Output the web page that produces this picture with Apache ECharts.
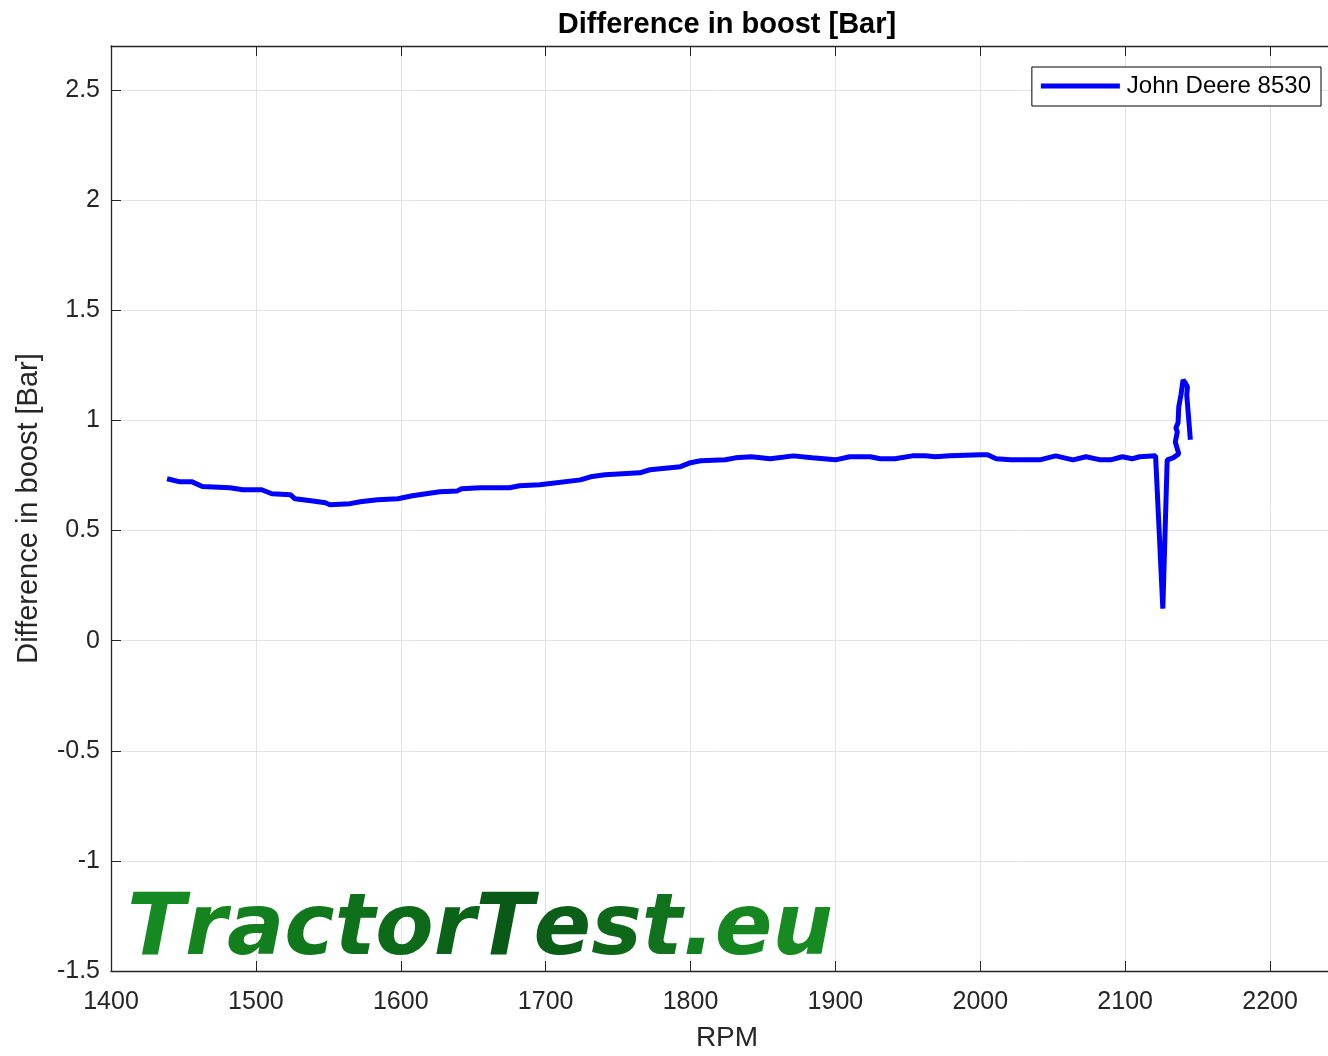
<!DOCTYPE html>
<html>
<head>
<meta charset="utf-8">
<script src="https://cdn.jsdelivr.net/npm/echarts@6/dist/echarts.min.js"></script>
<style>
  html, body { margin: 0; padding: 0; background: #fff; }
  #chart { width: 1328px; height: 1056px; }
</style>
</head>
<body>
<div id="chart"></div>
<script>
  // values
  const rpm = [1438.7, 1447.6, 1456, 1463, 1482, 1491, 1504, 1511, 1524, 1527, 1538, 1548, 1551, 1565, 1572,
    1584, 1598, 1608, 1627, 1639, 1642, 1655, 1675, 1682, 1696, 1724, 1731, 1741, 1765, 1772, 1793, 1800,
    1807, 1824, 1831, 1842, 1855, 1871, 1884, 1900, 1910, 1924, 1931, 1941, 1953, 1962, 1969, 1979, 2000,
    2005, 2011, 2021, 2041, 2052, 2064, 2073, 2083, 2090, 2098, 2105, 2110, 2121, 2126, 2129, 2133, 2137,
    2134.6, 2136, 2135, 2136.5, 2137, 2138.5, 2140, 2141.5, 2143, 2142.5, 2143.5, 2145];
  const boost = [0.735, 0.721, 0.721, 0.700, 0.694, 0.685, 0.685, 0.667, 0.662, 0.644, 0.635, 0.626, 0.617, 0.622, 0.631,
    0.640, 0.644, 0.658, 0.676, 0.680, 0.690, 0.694, 0.694, 0.703, 0.708, 0.730, 0.744, 0.753, 0.762, 0.776, 0.790, 0.808,
    0.817, 0.821, 0.830, 0.835, 0.826, 0.839, 0.830, 0.821, 0.835, 0.835, 0.826, 0.826, 0.839, 0.839, 0.835, 0.839, 0.844,
    0.844, 0.826, 0.821, 0.821, 0.839, 0.821, 0.835, 0.821, 0.821, 0.835, 0.826, 0.835, 0.839, 0.145, 0.821, 0.830, 0.848,
    0.902, 0.948, 0.966, 0.989, 1.062, 1.116, 1.184, 1.170, 1.152, 1.116, 1.107, 0.912];
  const seriesName = 'John Deere 8530';

  const pts = rpm.map((r, i) => [r, boost[i]]);

  const font = '"Liberation Sans", Arial, Helvetica, sans-serif';
  const axisCol = '#262626';
  const gridCol = '#e3e3e3';

  // watermark, one colour per letter to fake the green gradient
  const markText = 'TractorTest.eu';
  const markCols = ['#168a22', '#15841f', '#137e1e', '#11771c', '#0f701b', '#0d6a19', '#0b6317',
    '#095a16', '#0a5e17', '#0d6819', '#10721c', '#13801f', '#158620', '#178b22'];
  const rich = {};
  let richStr = '';
  markText.split('').forEach((ch, i) => {
    rich['c' + i] = {
      fill: markCols[i], fontSize: 85, fontWeight: 'bold', fontStyle: 'italic',
      fontFamily: '"DejaVu Sans", sans-serif'
    };
    richStr += '{c' + i + '|' + ch + '}';
  });

  const chart = echarts.init(document.getElementById('chart'));

  const option = {
    backgroundColor: '#fff',
    animation: false,
    legend: {
      right: 7, top: 67,
      orient: 'horizontal',
      backgroundColor: '#fff',
      borderColor: '#000', borderWidth: 1, borderRadius: 0,
      padding: [7, 10, 8, 9],
      itemWidth: 79, itemHeight: 5, itemGap: 6,
      icon: 'rect',
      textStyle: { fontFamily: font, fontSize: 24, color: '#000', padding: [0, 0, 0, 2] },
      data: [seriesName]
    },
    grid: { left: 111, right: 0, top: 46, bottom: 85, containLabel: false },
    xAxis: [{
      type: 'value', min: 1400, max: 2240, interval: 100,
      axisLine: { show: true, onZero: false, lineStyle: { color: axisCol, width: 1.3 } },
      axisTick: { show: true, inside: true, length: 10, lineStyle: { color: axisCol } },
      axisLabel: {
        fontFamily: font, fontSize: 25, color: axisCol, margin: 19, showMaxLabel: false,
        formatter: v => String(v)
      },
      splitLine: { show: true, lineStyle: { color: gridCol, width: 1 } }
    }, {
      type: 'value', position: 'top', min: 1400, max: 2240, interval: 100,
      axisLine: { show: true, onZero: false, lineStyle: { color: axisCol, width: 1.3 } },
      axisTick: { show: true, inside: true, length: 10, lineStyle: { color: axisCol } },
      axisLabel: { show: false },
      splitLine: { show: false }
    }],
    yAxis: {
      type: 'value', min: -1.5, max: 2.7, interval: 0.5,
      name: 'Difference in boost [Bar]', nameLocation: 'middle', nameGap: 68,
      nameTextStyle: { fontFamily: font, fontSize: 29, color: axisCol },
      axisLine: { show: true, onZero: false, lineStyle: { color: axisCol, width: 1.3 } },
      axisTick: { show: true, inside: true, length: 10, lineStyle: { color: axisCol } },
      axisLabel: {
        fontFamily: font, fontSize: 25, color: axisCol, margin: 11, showMaxLabel: false,
        formatter: v => String(v)
      },
      splitLine: { show: true, lineStyle: { color: gridCol, width: 1 } }
    },
    graphic: [{
      type: 'text',
      x: 727, y: 25, z: 100,
      style: {
        text: 'Difference in boost [Bar]', align: 'center', verticalAlign: 'middle',
        font: 'bold 29px "Liberation Sans", Arial, sans-serif', fill: '#000'
      }
    }, {
      type: 'text',
      left: 127, top: 889, z: 100,
      style: { text: richStr, rich: rich }
    }, {
      type: 'text',
      x: 727, y: 1038, z: 100,
      style: {
        text: 'RPM', align: 'center', verticalAlign: 'middle',
        font: '28px "Liberation Sans", Arial, sans-serif', fill: axisCol
      }
    }],
    series: [{
      name: seriesName,
      type: 'line',
      data: pts,
      showSymbol: false,
      symbol: 'none',
      color: '#0000ff',
      lineStyle: { color: '#0000ff', width: 5 },
      z: 5
    }]
  };
  chart.setOption(option);
</script>
</body>
</html>
